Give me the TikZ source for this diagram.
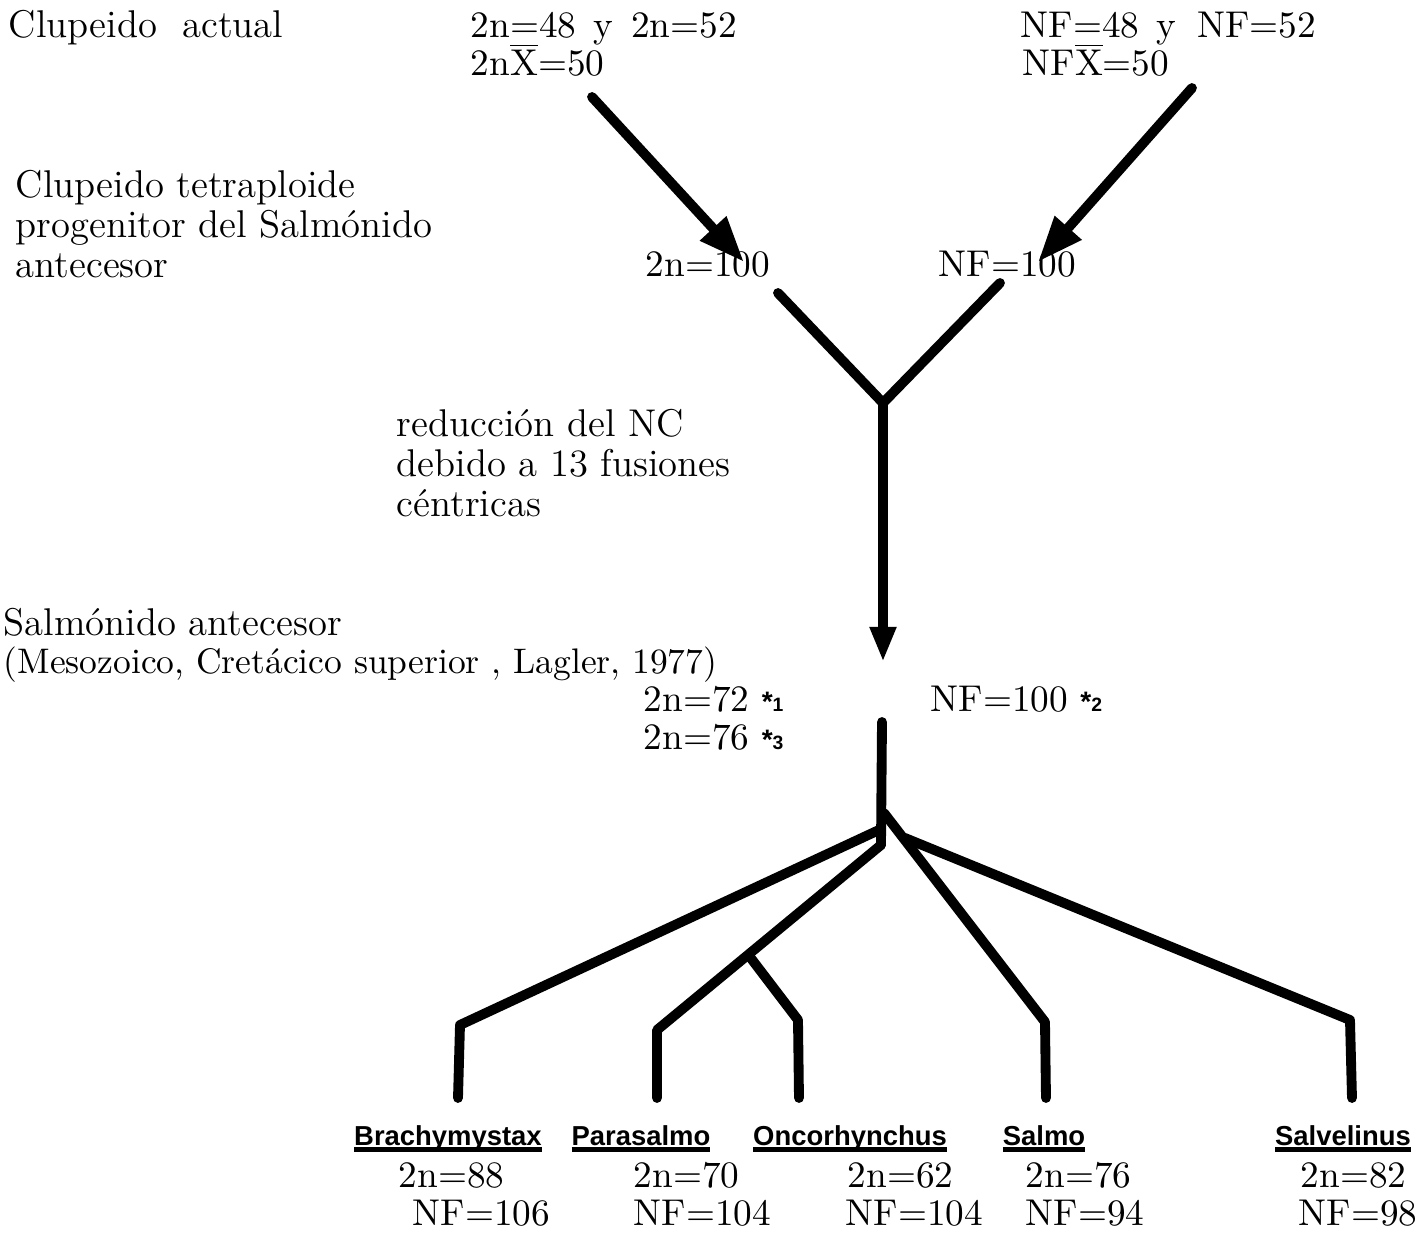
\documentclass[tikz,border=0pt]{standalone}
\usepackage{fontspec}
\newfontfamily\genusfont{Liberation Sans}
\usetikzlibrary{arrows.meta, positioning}
\newcommand\astnote[1]{{\genusfont\bfseries\fontsize{8}{8}\selectfont *{\fontsize{5.5}{6}\selectfont #1}}}
\newcommand\genusul[1]{\setbox0\hbox{#1}\rlap{\rule[-1.6pt]{\wd0}{1.3pt}}\box0}

\begin{document}
\begin{tikzpicture}[x=0.01cm, y=-0.01cm,
branch/.style={line width=2.8pt, line cap=round, line join=round},
arrowed/.style={branch, -{Triangle[length=10pt, width=7pt]}},
bigarrow/.style={branch, -{Triangle[length=13pt, width=9.5pt]}},
genus/.style={font=\genusfont\bfseries\fontsize{7.8}{9}\selectfont, inner sep=0pt, anchor=base}]
\tikzstyle{txt}=[font=\fontsize{11}{13}\selectfont, inner sep=0pt, anchor=base west]
\tikzstyle{num}=[font=\fontsize{10.6}{13}\selectfont, inner sep=0pt, anchor=base west]
\def\ls{40}
\useasboundingbox (0,0) rectangle (1417,1234);

%Clupeido actual
\node[txt] (actual) at (8,38) {Clupeido\ \ actual};
\node[num] (cn) at (470,38) {2n=48\hspace{5pt}y\hspace{5pt}2n=52};
\node[num] (cnmean) at (470,76) {2n$\overline{\mbox{X}}$=50};
\node[num] (nf) at (1020,38) {NF=48\hspace{5pt}y\hspace{6pt}NF=52};
\node[num] (nfmean) at (1022,76) {NF$\overline{\mbox{X}}$=50};

%tetraploide
\node[txt] (tetra) at (15,198) {Clupeido tetraploide};
\node[txt] at (15,198+\ls) {progenitor del Salmónido};
\node[txt] at (15,198+2*\ls) {antecesor};
\node[num] (cn100) at (645,277) {2n=100};
\node[num] (nf100) at (938,277) {NF=100};

\coordinate (cnstart) at (592,97);
\coordinate (cnend) at (744,262);
\coordinate (nfstart) at (1192,88);
\coordinate (nfend) at (1038,262);
\draw[bigarrow] (cnstart) -- (cnend);
\draw[bigarrow] (nfstart) -- (nfend);

%fusiones
\node[txt] (reduc) at (396,437) {reducción del NC};
\node[txt] at (396,437+\ls) {debido a 13 fusiones};
\node[txt] at (396,437+2*\ls) {céntricas};

\coordinate (yl) at (778,293);
\coordinate (yr) at (1000,283);
\coordinate (yj) at (883,403);
\coordinate (ytip) at (883,662);
\draw[branch] (yl) -- (yj) -- (yr);
\draw[arrowed] (yj) -- (ytip);

%antecesor
\node[txt] (ances) at (3,636) {Salmónido antecesor};
\node[txt, font=\fontsize{10.1}{13}\selectfont] at (3,674) {(Mesozoico, Cretácico superior , Lagler, 1977)};
\node[num] (cn72) at (643,712) {2n=72 \astnote{1}};
\node[num] (cn76) at (643,750) {2n=76 \astnote{3}};
\node[num] (nfanc) at (930,712) {NF=100 \astnote{2}};

%tree
\coordinate (trunk) at (882,722);
\coordinate (fork) at (881,845);
\coordinate (brfork) at (879,830);
\coordinate (brbend) at (460,1025);
\coordinate (brend) at (458,1098);
\coordinate (pabend) at (657,1030);
\coordinate (paend) at (657,1098);
\coordinate (onfork) at (750,957);
\coordinate (onbend) at (798,1020);
\coordinate (onend) at (799,1098);
\coordinate (safork) at (884,813);
\coordinate (sabend) at (1045,1022);
\coordinate (saend) at (1046,1098);
\coordinate (svfork) at (905,838);
\coordinate (svbend) at (1350,1020);
\coordinate (svend) at (1352,1098);
\draw[branch] (trunk) -- (fork);
\draw[branch] (brfork) -- (brbend) -- (brend);
\draw[branch] (fork) -- (pabend) -- (paend);
\draw[branch] (onfork) -- (onbend) -- (onend);
\draw[branch] (safork) -- (sabend) -- (saend);
\draw[branch] (svfork) -- (svbend) -- (svend);

%genera
\node[genus] (brachy) at (448,1146) {\genusul{Brachymystax}};
\node[genus] (para) at (641,1146) {\genusul{Parasalmo}};
\node[genus] (onco) at (850,1146) {\genusul{Oncorhynchus}};
\node[genus] (salmo) at (1044,1146) {\genusul{Salmo}};
\node[genus] (salv) at (1343,1146) {\genusul{Salvelinus}};

\node[num] at (398,1188) {2n=88};
\node[num] at (412,1226) {NF=106};
\node[num] at (633,1188) {2n=70};
\node[num] at (633,1226) {NF=104};
\node[num] at (847,1188) {2n=62};
\node[num] at (845,1226) {NF=104};
\node[num] at (1025,1188) {2n=76};
\node[num] at (1025,1226) {NF=94};
\node[num] at (1300,1188) {2n=82};
\node[num] at (1298,1226) {NF=98};

\end{tikzpicture}
\end{document}
